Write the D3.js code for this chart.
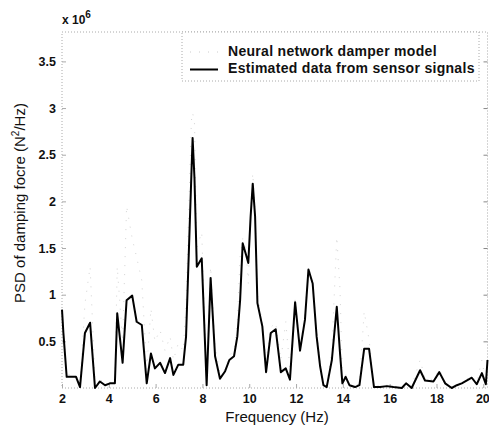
<!DOCTYPE html>
<html lang="en">

<head>
  <meta charset="UTF-8">
  <title>PSD of damping force</title>
  <script src="https://d3js.org/d3.v7.min.js"></script>
  <style>
    body { margin: 0; background: #fff; }
    text { font-family: "Liberation Sans", Arial, sans-serif; fill: #111; }
  </style>
</head>

<body>

  <script>
    // Frequency (Hz) of each reading
    const freq = [2.0, 2.06, 2.2, 2.41, 2.6, 2.77, 2.98, 3.2, 3.41, 3.62, 3.84, 4.05, 4.26, 4.36, 4.59, 4.76,
      5.0, 5.19, 5.41, 5.62, 5.8, 5.97, 6.19, 6.4, 6.62, 6.76, 6.97, 7.18, 7.3, 7.53, 7.58, 7.66, 7.76,
      7.97, 8.18, 8.35, 8.54, 8.75, 8.97, 9.15, 9.35, 9.49, 9.61, 9.72, 9.86, 9.96, 10.06, 10.15, 10.25,
      10.35, 10.56, 10.72, 10.92, 11.13, 11.35, 11.56, 11.74, 11.96, 12.17, 12.38, 12.53, 12.71, 12.88,
      13.03, 13.17, 13.31, 13.53, 13.74, 13.88, 13.98, 14.12, 14.28, 14.52, 14.71, 14.91, 15.12, 15.33,
      15.59, 15.88, 16.16, 16.52, 16.7, 16.94, 17.3, 17.51, 17.87, 18.12, 18.37, 18.65, 18.87, 19.08,
      19.51, 19.72, 19.94, 20.11, 20.18];

    // Estimated data from sensor signals (x 10^6 N^2/Hz)
    const estimated = [0.84, 0.59, 0.12, 0.12, 0.12, 0.01, 0.59, 0.70, 0.0, 0.07, 0.03, 0.05, 0.05, 0.80, 0.27, 0.94,
      0.99, 0.71, 0.675, 0.05, 0.37, 0.21, 0.27, 0.16, 0.32, 0.14, 0.25, 0.25, 0.55, 2.3, 2.68, 2.25, 1.30,
      1.39, 0.03, 1.18, 0.34, 0.10, 0.18, 0.30, 0.34, 0.55, 0.94, 1.55, 1.43, 1.34, 1.84, 2.19, 1.84,
      0.91, 0.66, 0.17, 0.59, 0.63, 0.17, 0.21, 0.09, 0.92, 0.40, 0.73, 1.27, 1.12, 0.55,
      0.23, 0.03, 0.01, 0.30, 0.87, 0.37, 0.05, 0.12, 0.03, 0.01, 0.03, 0.42, 0.42, 0.01,
      0.01, 0.02, 0.01, 0.0, 0.05, 0.0, 0.19, 0.08, 0.07, 0.17, 0.05, 0.0, 0.03, 0.05,
      0.11, 0.04, 0.16, 0.04, 0.30];

    // Neural network damper model (x 10^6 N^2/Hz), faint in the original
    const model = [0.9, 0.62, 0.15, 0.14, 0.13, 0.05, 0.9, 1.3, 0.1, 0.09, 0.05, 0.06, 0.08, 1.3, 0.5, 1.95,
      1.6, 1.4, 1.15, 0.2, 0.85, 0.5, 0.62, 0.4, 0.55, 0.3, 0.48, 0.4, 0.9, 2.87, 2.95, 2.85, 1.5,
      1.67, 0.1, 1.3, 0.45, 0.15, 0.2, 0.35, 0.4, 0.7, 1.41, 1.6, 1.5, 1.12, 1.9, 2.3, 1.9,
      1.0, 0.7, 0.3, 0.65, 0.7, 0.3, 0.71, 0.2, 0.95, 0.44, 0.8, 1.3, 1.15, 0.6,
      0.3, 0.05, 0.03, 0.4, 1.62, 1.05, 0.1, 0.15, 0.05, 0.02, 0.05, 0.82, 0.52, 0.03,
      0.02, 0.03, 0.02, 0.01, 0.06, 0.02, 0.3, 0.1, 0.09, 0.2, 0.07, 0.01, 0.04, 0.06,
      0.13, 0.06, 0.3, 0.06, 0.32];

    const xTicks = [2, 4, 6, 8, 10, 12, 14, 16, 18, 20];
    const yTicks = [0.5, 1, 1.5, 2, 2.5, 3, 3.5];
    const seriesNames = ['Neural network damper model', 'Estimated data from sensor signals'];

    const W = 489, H = 434;
    const margin = { top: 32, right: 1.5, bottom: 46, left: 62 };
    const width = W - margin.left - margin.right;
    const height = H - margin.top - margin.bottom;

    const svg = d3.select('body')
      .append('svg')
      .attr('width', W)
      .attr('height', H);

    const g = svg.append('g')
      .attr('transform', `translate(${margin.left},${margin.top})`);

    const x = d3.scaleLinear().domain([2, 20.18]).range([0, width]);
    const y = d3.scaleLinear().domain([0, 3.815]).range([height, 0]);

    // dotted frame
    g.append('rect')
      .attr('width', width)
      .attr('height', height)
      .attr('fill', 'none')
      .attr('stroke', '#aaa')
      .attr('stroke-width', 1)
      .attr('stroke-dasharray', '1,2');

    // axes
    const xAxis = g.append('g')
      .attr('transform', `translate(0,${height})`)
      .call(d3.axisBottom(x).tickValues(xTicks).tickSize(-4).tickPadding(6).tickFormat(d3.format('d')));

    const yAxis = g.append('g')
      .call(d3.axisLeft(y).tickValues(yTicks).tickSize(-4).tickPadding(6).tickFormat(d => d));

    [xAxis, yAxis].forEach(a => {
      a.select('.domain').remove();
      a.selectAll('line').attr('stroke', '#aaa');
      a.selectAll('text')
        .style('font-family', '"Liberation Sans", Arial, sans-serif')
        .style('font-size', '12.5px')
        .style('font-weight', 'bold')
        .attr('fill', '#111');
    });
    // keep last label inside the picture
    xAxis.selectAll('.tick').filter(d => d === 20).select('text')
      .attr('text-anchor', 'end').attr('dx', 6);

    // right side ticks
    g.append('g')
      .attr('transform', `translate(${width},0)`)
      .call(d3.axisRight(y).tickValues(yTicks).tickSize(-4).tickFormat(''))
      .call(a => a.select('.domain').remove())
      .selectAll('line').attr('stroke', '#888');

    // multiplier
    const mult = svg.append('text')
      .attr('x', 62)
      .attr('y', 24)
      .style('font-size', '12px')
      .style('font-weight', 'bold');
    mult.append('tspan').text('x 10');
    mult.append('tspan').attr('dy', -6).style('font-size', '10px').text('6');

    // axis titles
    svg.append('text')
      .attr('x', 277)
      .attr('y', 422)
      .attr('text-anchor', 'middle')
      .style('font-size', '15px')
      .text('Frequency (Hz)');

    const yl = svg.append('text')
      .attr('transform', 'translate(25,203) rotate(-90)')
      .attr('text-anchor', 'middle')
      .style('font-size', '15px');
    yl.append('tspan').text('PSD of damping focre (N');
    yl.append('tspan').attr('dy', -6).style('font-size', '10px').text('2');
    yl.append('tspan').attr('dy', 6).text('/Hz)');

    const line = d3.line()
      .x((d, i) => x(freq[i]))
      .y(d => y(d));

    // model (faint dotted)
    g.append('path')
      .datum(model)
      .attr('fill', 'none')
      .attr('stroke', '#d4d4d4')
      .attr('stroke-width', 1)
      .attr('stroke-dasharray', '1,8')
      .attr('d', line);

    // estimated
    g.append('path')
      .datum(estimated)
      .attr('fill', 'none')
      .attr('stroke', '#000')
      .attr('stroke-width', 2)
      .attr('stroke-linejoin', 'round')
      .attr('d', line);

    // legend
    const lg = svg.append('g').attr('transform', 'translate(182,32)');
    lg.append('rect')
      .attr('width', 297)
      .attr('height', 49)
      .attr('fill', '#fff')
      .attr('stroke', '#aaa')
      .attr('stroke-dasharray', '1,2');

    lg.append('line')
      .attr('x1', 8).attr('x2', 36).attr('y1', 20).attr('y2', 20)
      .attr('stroke', '#ccc').attr('stroke-dasharray', '1,8');
    lg.append('line')
      .attr('x1', 8).attr('x2', 36).attr('y1', 37.5).attr('y2', 37.5)
      .attr('stroke', '#000').attr('stroke-width', 2);

    lg.selectAll('text.leg')
      .data(seriesNames)
      .enter()
      .append('text')
      .attr('class', 'leg')
      .attr('x', 46)
      .attr('y', (d, i) => 24 + i * 16.7)
      .style('font-size', '14px')
      .style('font-weight', 'bold')
      .style('letter-spacing', '0.3px')
      .text(d => d);
  </script>

</body>

</html>
